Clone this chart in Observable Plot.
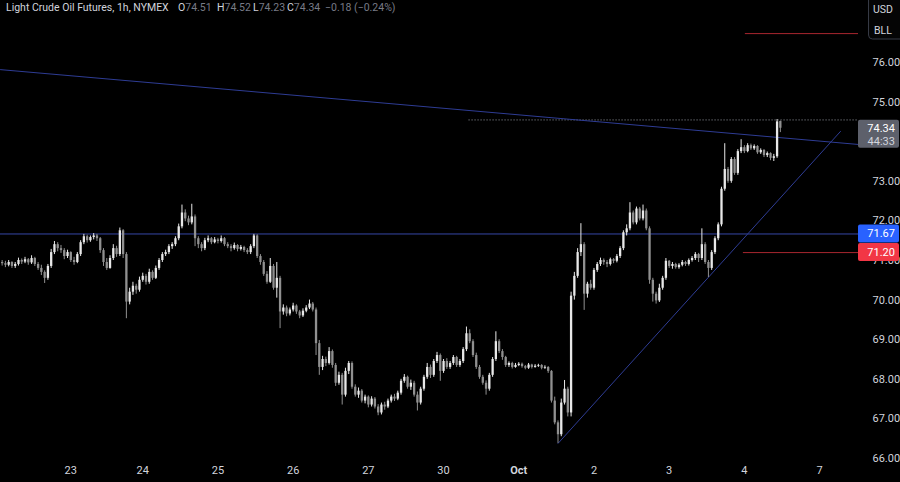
<!DOCTYPE html>
<html><head><meta charset="utf-8">
<script src="https://cdn.jsdelivr.net/npm/d3@7"></script>
<script src="https://cdn.jsdelivr.net/npm/@observablehq/plot@0.6"></script>
<style>
html,body{margin:0;padding:0;background:#000;}
#wrap{position:relative;width:900px;height:482px;overflow:hidden;background:#000;}
#hdr{position:absolute;left:0;top:0;width:600px;height:16px;font:10.5px Roboto, sans-serif;color:#d1d4dc;white-space:nowrap;}
#hdr span{position:absolute;top:1px;}
#hdr .v{color:#787b86;position:static;}
</style></head><body><div id="wrap"><div id="hdr"></div></div>
<script>
// ---- data (1h bars, index 0..238) ----
const opens = [70.95,70.92,70.88,70.95,70.85,70.90,71.00,70.96,71.02,70.94,
71.05,70.90,70.80,70.70,70.55,70.85,71.20,71.40,71.30,71.25,
71.10,71.20,71.00,70.95,71.15,71.45,71.60,71.50,71.58,71.62,
71.55,71.25,70.95,70.80,71.05,71.30,71.15,71.75,71.15,69.95,
70.20,70.35,70.25,70.50,70.60,70.45,70.70,70.55,70.80,71.00,
71.15,71.20,71.35,71.40,71.55,71.85,72.20,72.05,71.95,72.10,
71.55,71.40,71.30,71.50,71.55,71.45,71.52,71.48,71.55,71.40,
71.35,71.30,71.38,71.28,71.33,71.25,71.20,71.35,71.62,71.10,
70.95,70.65,70.45,70.85,70.30,70.55,69.70,69.80,69.65,69.75,
69.85,69.70,69.60,69.72,69.80,69.90,69.75,68.90,68.30,68.50,
68.40,68.70,68.35,67.90,68.10,67.60,68.20,68.40,67.80,67.60,
67.70,67.45,67.55,67.35,67.50,67.30,67.15,67.35,67.30,67.45,
67.55,67.50,67.65,67.95,68.05,67.80,67.90,67.60,67.40,67.75,
68.05,68.30,68.10,68.45,68.60,68.20,68.45,68.30,68.40,68.55,
68.35,68.45,68.75,69.15,68.95,68.60,68.30,68.05,67.90,67.75,
68.10,68.50,68.95,68.70,68.55,68.35,68.40,68.30,68.35,68.38,
68.32,68.28,68.36,68.30,68.33,68.35,68.28,68.30,68.20,67.45,
66.90,66.60,67.40,67.75,67.15,70.10,70.60,71.20,71.40,70.15,
70.40,70.30,70.75,70.90,71.00,70.95,70.90,71.02,70.98,71.10,
71.30,71.70,71.80,72.20,71.95,72.30,72.05,72.25,71.80,70.50,
70.15,69.98,70.30,70.55,70.98,70.85,70.90,70.82,70.88,70.95,
70.90,71.00,71.05,71.15,71.05,71.40,70.95,70.80,71.20,71.55,
71.90,72.80,73.30,73.00,73.55,73.20,73.75,73.85,73.75,73.90,
73.82,73.88,73.72,73.78,73.65,73.70,73.58,73.62,74.51];
const highs = [71.00,70.98,71.00,70.97,70.95,71.06,71.04,71.08,71.05,71.12,
71.08,70.95,70.88,70.74,70.90,71.28,71.48,71.45,71.38,71.30,
71.26,71.22,71.08,71.20,71.50,71.66,71.64,71.62,71.68,71.66,
71.58,71.30,71.05,71.12,71.40,71.36,71.82,71.78,71.20,70.30,
70.45,70.40,70.58,70.68,70.65,70.78,70.74,70.86,71.05,71.20,
71.26,71.40,71.45,71.60,71.92,72.40,72.28,72.12,72.42,72.15,
71.60,71.45,71.56,71.62,71.58,71.58,71.56,71.62,71.58,71.45,
71.40,71.44,71.40,71.38,71.36,71.30,71.40,71.66,71.65,71.15,
71.00,70.72,71.05,70.90,70.95,70.60,69.88,69.85,69.80,69.92,
69.88,69.74,69.78,69.86,70.00,69.94,69.80,68.98,68.58,68.56,
68.80,68.74,68.40,68.18,68.15,68.28,68.45,68.44,67.86,67.78,
67.74,67.60,67.58,67.56,67.54,67.36,67.40,67.42,67.50,67.60,
67.62,67.70,68.00,68.12,68.08,67.98,67.95,67.68,67.80,68.10,
68.40,68.36,68.50,68.68,68.64,68.50,68.52,68.45,68.60,68.58,
68.50,68.80,69.32,69.25,69.00,68.66,68.35,68.10,67.96,68.15,
68.55,69.20,69.00,68.75,68.58,68.44,68.43,68.40,68.42,68.41,
68.35,68.40,68.38,68.37,68.38,68.37,68.34,68.32,68.22,67.55,
66.95,67.50,67.97,67.80,70.20,70.70,71.30,71.93,71.45,70.45,
70.50,70.80,70.95,71.06,71.04,71.00,71.06,71.05,71.15,71.35,
71.75,71.90,72.46,72.25,72.35,72.34,72.40,72.30,71.85,70.55,
70.20,70.40,70.60,71.05,71.00,70.95,70.93,70.92,71.00,70.98,
71.04,71.10,71.20,71.18,71.80,71.45,71.00,71.25,71.60,71.95,
72.85,73.95,73.35,73.60,73.60,73.80,74.05,73.90,73.95,73.94,
73.92,73.90,73.82,73.80,73.74,73.72,73.68,74.56,74.52];
const lows = [70.86,70.82,70.84,70.80,70.80,70.86,70.90,70.92,70.88,70.90,
70.85,70.75,70.62,70.42,70.50,70.80,71.15,71.22,71.18,71.02,
71.05,70.95,70.88,70.92,71.10,71.40,71.44,71.46,71.52,71.48,
71.18,70.85,70.75,70.78,71.00,71.08,71.10,71.05,69.53,69.88,
70.12,70.15,70.20,70.45,70.38,70.40,70.50,70.52,70.75,70.95,
71.10,71.15,71.28,71.35,71.50,71.80,71.98,71.88,71.90,71.35,
71.30,71.22,71.25,71.45,71.40,71.42,71.42,71.44,71.35,71.30,
71.22,71.26,71.22,71.24,71.20,71.15,71.15,71.30,71.05,70.88,
70.60,70.40,70.42,70.25,70.05,69.28,69.62,69.58,69.60,69.70,
69.64,69.53,69.56,69.68,69.76,69.70,68.60,68.10,68.22,68.32,
68.36,68.28,67.82,67.85,67.35,67.55,68.12,67.75,67.55,67.52,
67.40,67.38,67.28,67.30,67.25,67.08,67.10,67.22,67.26,67.40,
67.44,67.46,67.60,67.90,67.75,67.72,67.55,67.20,67.35,67.70,
68.00,68.02,68.05,68.40,67.95,68.15,68.25,68.25,68.35,68.30,
68.30,68.40,68.70,68.90,68.55,68.25,68.00,67.85,67.60,67.70,
68.05,68.45,68.65,68.48,68.30,68.30,68.26,68.28,68.32,68.28,
68.24,68.25,68.26,68.28,68.30,68.24,68.25,68.15,67.40,66.85,
66.38,66.55,67.35,67.05,67.05,70.00,70.55,71.10,69.74,70.05,
70.25,70.25,70.70,70.85,70.88,70.82,70.86,70.92,70.94,71.05,
71.25,71.62,71.75,71.90,71.90,72.00,72.00,71.75,70.40,69.95,
69.90,69.94,70.25,70.50,70.80,70.78,70.78,70.78,70.84,70.85,
70.86,70.96,71.00,70.95,71.00,70.90,70.57,70.75,71.15,71.50,
71.85,72.75,72.95,72.95,73.15,73.15,73.70,73.70,73.72,73.78,
73.78,73.68,73.68,73.60,73.60,73.52,73.50,73.58,74.23];
const closes = [70.92,70.88,70.95,70.85,70.90,71.00,70.96,71.02,70.94,71.05,
70.90,70.80,70.70,70.55,70.85,71.20,71.40,71.30,71.25,71.10,
71.20,71.00,70.95,71.15,71.45,71.60,71.50,71.58,71.62,71.55,
71.25,70.95,70.80,71.05,71.30,71.15,71.75,71.15,69.95,70.20,
70.35,70.25,70.50,70.60,70.45,70.70,70.55,70.80,71.00,71.15,
71.20,71.35,71.40,71.55,71.85,72.20,72.05,71.95,72.10,71.55,
71.40,71.30,71.50,71.55,71.45,71.52,71.48,71.55,71.40,71.35,
71.30,71.38,71.28,71.33,71.25,71.20,71.35,71.62,71.10,70.95,
70.65,70.45,70.85,70.30,70.55,69.70,69.80,69.65,69.75,69.85,
69.70,69.60,69.72,69.80,69.90,69.75,68.90,68.30,68.50,68.40,
68.70,68.35,67.90,68.10,67.60,68.20,68.40,67.80,67.60,67.70,
67.45,67.55,67.35,67.50,67.30,67.15,67.35,67.30,67.45,67.55,
67.50,67.65,67.95,68.05,67.80,67.90,67.60,67.40,67.75,68.05,
68.30,68.10,68.45,68.60,68.20,68.45,68.30,68.40,68.55,68.35,
68.45,68.75,69.15,68.95,68.60,68.30,68.05,67.90,67.75,68.10,
68.50,68.95,68.70,68.55,68.35,68.40,68.30,68.35,68.38,68.32,
68.28,68.36,68.30,68.33,68.35,68.28,68.30,68.20,67.45,66.90,
66.60,67.40,67.75,67.15,70.10,70.60,71.20,71.40,70.15,70.40,
70.30,70.75,70.90,71.00,70.95,70.90,71.02,70.98,71.10,71.30,
71.70,71.80,72.20,71.95,72.30,72.05,72.25,71.80,70.50,70.15,
69.98,70.30,70.55,70.98,70.85,70.90,70.82,70.88,70.95,70.90,
71.00,71.05,71.15,71.05,71.40,70.95,70.80,71.20,71.55,71.90,
72.80,73.30,73.00,73.55,73.20,73.75,73.85,73.75,73.90,73.82,
73.88,73.72,73.78,73.65,73.70,73.58,73.62,74.50,74.34];

const dayTicks  = [21, 43, 66, 89, 112, 135, 158, 181, 204, 227, 250];
const dayLabels = ["23","24","25","26","27","30","Oct","2","3","4","7"];
// 74.00 sits under the last-price tag in the reference, so it is not shown
const priceTicks = [66,67,68,69,70,71,72,73,75,76];

const hLevel = [71.67];
const redLevels = [{p: 76.73, from: 227.3}, {p: 71.20, from: 226.7}];
const dottedLevel = [{p: 74.55, from: 142.8}];
const trendDown = [{i: -0.5, p: 75.82}, {i: 261.9, p: 73.93}];
const trendUp = [{i: 170, p: 66.38}, {i: 256.4, p: 74.26}];

const title = "Light Crude Oil Futures, 1h, NYMEX";
const changeText = "\u22120.18 (\u22120.24%)";
const countdown = "44:33";

// ---- build ----
const xMax = 261.9;
const upC = "#e8e8e8", downC = "#909090";
const bars = closes.map((c, i) => ({i, o: opens[i], h: highs[i], l: lows[i], c}));
const col = d => d.c >= d.o ? upC : downC;

const plot = Plot.plot({
  width: 900, height: 482,
  marginLeft: 0, marginRight: 42, marginTop: 0, marginBottom: 20,
  style: {background: "#000", color: "#d1d4dc", fontSize: "11px", fontFamily: "Roboto, sans-serif"},
  x: {type: "linear", domain: [-0.5, xMax], axis: null},
  y: {domain: [65.899, 77.566], axis: null},
  marks: [
    Plot.ruleY(dottedLevel, {y: "p", x1: "from", x2: xMax, stroke: "#9598a1", strokeDasharray: "1,2", strokeWidth: 1}),
    Plot.ruleY(hLevel, {stroke: "#3646a6", strokeWidth: 1}),
    Plot.ruleY(redLevels, {y: "p", x1: "from", x2: xMax, stroke: "#a8262f", strokeWidth: 1}),
    Plot.line(trendDown, {x: "i", y: "p", stroke: "#2e3c94", strokeWidth: 1, clip: true}),
    Plot.line(trendUp, {x: "i", y: "p", stroke: "#2e3c94", strokeWidth: 1, clip: true}),
    Plot.ruleX(bars, {x: "i", y1: "l", y2: "h", stroke: col, strokeWidth: 1}),
    Plot.ruleX(bars, {x: "i", y1: "o", y2: "c", stroke: col, strokeWidth: 2.3}),
    Plot.axisX({ticks: dayTicks, tickFormat: d => dayLabels[dayTicks.indexOf(d)], tickSize: 0, tickPadding: 4}),
    Plot.axisY({anchor: "right", ticks: priceTicks, tickFormat: d => d.toFixed(2), tickSize: 0, tickPadding: 14})
  ]
});
document.getElementById("wrap").appendChild(plot);

const svg = d3.select(plot);
svg.selectAll("text").filter(function(){ return d3.select(this).text() === "Oct"; }).attr("font-weight", "bold");
const ys = plot.scale("y");
const Y = v => ys.apply(v);

function tag(price, fill, txt) {
  const g = svg.append("g");
  const yc = Y(price);
  g.append("rect").attr("x", 858).attr("y", yc - 9).attr("width", 41).attr("height", 18).attr("rx", 2).attr("fill", fill);
  g.append("text").attr("x", 895).attr("y", yc).attr("dy", "0.35em").attr("text-anchor", "end")
    .attr("fill", "#ffffff").attr("font-size", 11).attr("font-family", "Roboto, sans-serif").text(txt);
}
tag(hLevel[0], "#2962ff", hLevel[0].toFixed(2));
tag(redLevels[1].p, "#f23645", redLevels[1].p.toFixed(2));

// last price tag
const last = closes[closes.length - 1];
{
  const yc = Y(last);
  const g = svg.append("g");
  g.append("rect").attr("x", 858).attr("y", yc - 8).attr("width", 41).attr("height", 28).attr("rx", 2).attr("fill", "#5d606b");
  g.append("text").attr("x", 895).attr("y", yc).attr("dy", "0.35em").attr("text-anchor", "end")
    .attr("fill", "#ffffff").attr("font-size", 11).attr("font-family", "Roboto, sans-serif").text(last.toFixed(2));
  g.append("text").attr("x", 895).attr("y", yc + 13).attr("dy", "0.35em").attr("text-anchor", "end")
    .attr("fill", "#d1d4dc").attr("font-size", 11).attr("font-family", "Roboto, sans-serif").text(countdown);
}
// currency / unit box
{
  const g = svg.append("g");
  g.append("rect").attr("x", 868.5).attr("y", -6).attr("width", 40).attr("height", 45).attr("rx", 4)
    .attr("fill", "#050505").attr("stroke", "#363a45");
  g.append("text").attr("x", 883).attr("y", 9).attr("dy", "0.35em").attr("text-anchor", "middle")
    .attr("fill", "#d1d4dc").attr("font-size", 10.5).attr("font-family", "Roboto, sans-serif").text("USD");
  g.append("text").attr("x", 883).attr("y", 30).attr("dy", "0.35em").attr("text-anchor", "middle")
    .attr("fill", "#d1d4dc").attr("font-size", 10.5).attr("font-family", "Roboto, sans-serif").text("BLL");
}

// header (legend line)
const hdr = d3.select("#hdr");
const n = closes.length - 1;
hdr.append("span").style("left", "6px").text(title);
const ohlc = [["O", opens[n], 178], ["H", highs[n], 217], ["L", lows[n], 253], ["C", closes[n], 287]];
for (const [k, v, left] of ohlc) {
  const s = hdr.append("span").style("left", left + "px").text(k);
  s.append("span").attr("class", "v").text(v.toFixed(2));
}
hdr.append("span").style("left", "325px").style("color", "#787b86").text(changeText);
</script>
</body></html>
